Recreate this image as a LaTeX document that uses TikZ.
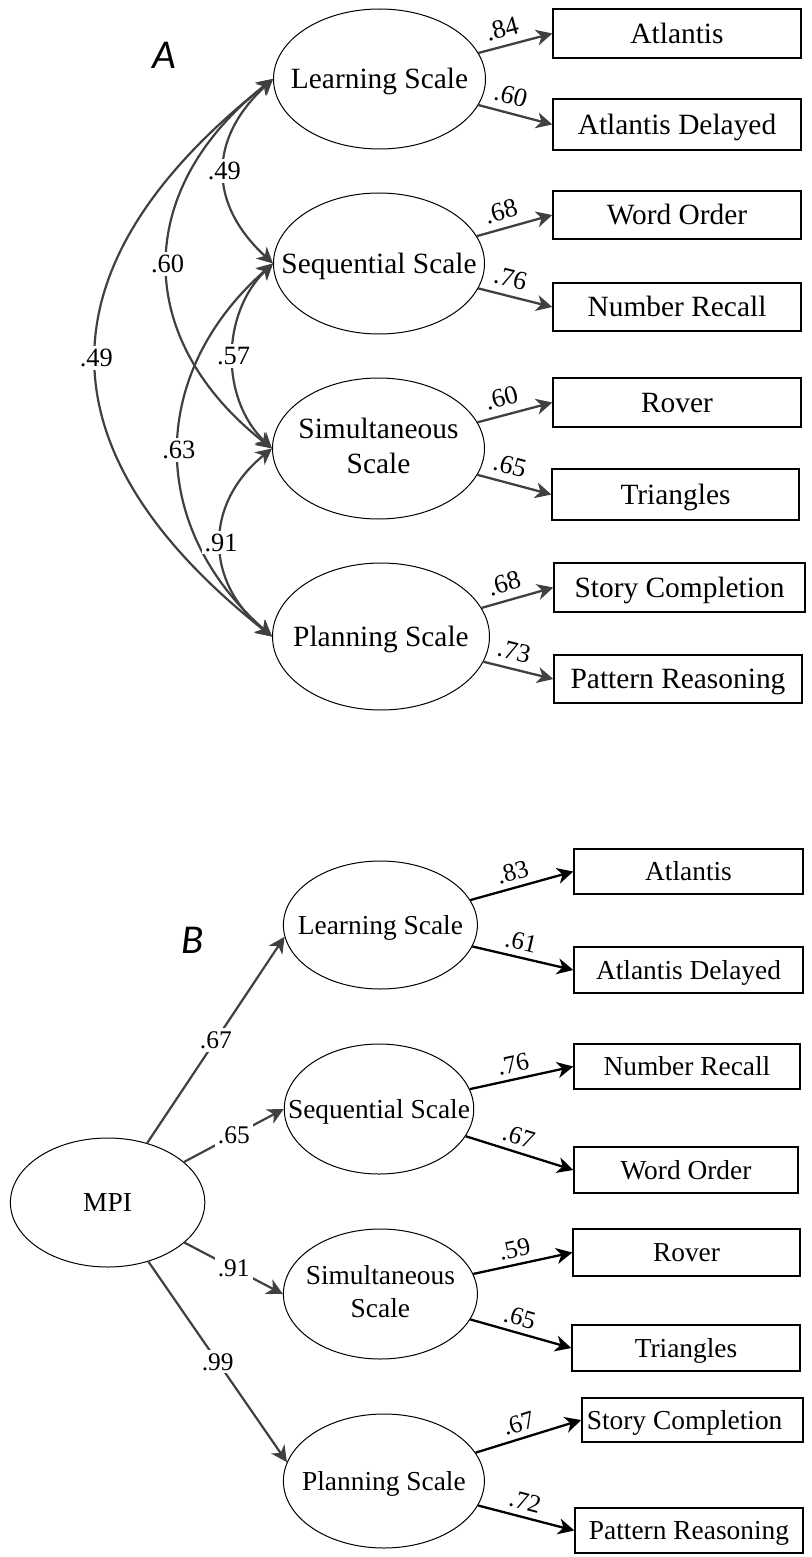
\documentclass[tikz,border=0pt]{standalone}
\usepackage{fontspec}
\setmainfont{Liberation Serif}
\newfontfamily\panelfont{Carlito}
\usetikzlibrary{arrows.meta,shapes.geometric}
\definecolor{pathgray}{HTML}{404040}
% text set in a zero-width box so the ellipse keeps its prescribed size
\newcommand{\zw}[1]{\makebox[0pt]{#1}}
\newcommand{\zwtwo}[2]{\makebox[0pt]{\begin{tabular}{@{}c@{}}#1\\#2\end{tabular}}}
\begin{document}
\begin{tikzpicture}[x=0.5pt,y=-0.5pt,
  >={Stealth[length=8pt,width=8pt,inset=2.4pt]},
  fA/.style={font=\fontsize{14.7}{17.5}\selectfont},
  fB/.style={font=\fontsize{13.7}{16.5}\selectfont},
  % single text lines centred on their capital letters
  oneA/.style={fA, text height=11pt, text depth=1.3pt},
  oneB/.style={fB, text height=10.3pt, text depth=1.2pt},
  shell/.style={ellipse, draw=black, line width=0.5pt, inner sep=0pt},
  obs/.style={rectangle, draw=black, line width=0.7pt, inner sep=0pt},
  load/.style={->, draw=pathgray, line width=1.15pt},
  loadB/.style={->, draw=black, line width=1.15pt},
  corr/.style={<->, draw=pathgray, line width=1.1pt},
  struct/.style={->, draw=pathgray, line width=1.1pt},
  wA/.style={font=\fontsize{13.2}{15}\selectfont, sloped, above, inner sep=3.6pt, pos=0.38},
  wB/.style={font=\fontsize{12.7}{15}\selectfont, sloped, above, inner sep=2.8pt, pos=0.45},
  rA/.style={font=\fontsize{13.2}{15}\selectfont, fill=white, inner sep=1.5pt, midway},
  rB/.style={font=\fontsize{12.7}{15}\selectfont, fill=white, inner sep=1.5pt, midway},
  tag/.style={font={\fontsize{20.5}{24}\panelfont\itshape}, inner sep=0pt}
]
\useasboundingbox (0,0) rectangle (811,1557);

% ---------------- Panel A: correlated factors ----------------
\node[tag] (tagA) at (164,55) {A};

\node[shell, oneA, minimum width=106pt,   minimum height=70pt]   (LA) at (379.5,79)    {\zw{Learning Scale}};
\node[shell, oneA, minimum width=105.5pt, minimum height=70.5pt] (SA) at (379,263.5)   {\zw{Sequential Scale}};
\node[shell, fA,   minimum width=106pt,   minimum height=70.5pt] (MA) at (378.5,448.5) {\zwtwo{Simultaneous}{Scale}};
\node[shell, oneA, minimum width=108.5pt, minimum height=73.5pt] (PA) at (381,636.5)   {\zw{Planning Scale}};

\node[obs, oneA, minimum width=124pt,   minimum height=24.5pt] (a1) at (677,33.5)    {Atlantis};
\node[obs, oneA, minimum width=124pt,   minimum height=25.5pt] (a2) at (677,124.5)   {Atlantis Delayed};
\node[obs, oneA, minimum width=124pt,   minimum height=24pt]   (a3) at (677,215)     {Word Order};
\node[obs, oneA, minimum width=124pt,   minimum height=24pt]   (a4) at (677,307)     {Number Recall};
\node[obs, oneA, minimum width=124pt,   minimum height=24.5pt] (a5) at (677,402.5)   {Rover};
\node[obs, oneA, minimum width=123.5pt, minimum height=25.5pt] (a6) at (675.5,494.5) {Triangles};
\node[obs, oneA, minimum width=125.5pt, minimum height=24.5pt] (a7) at (679.5,587.5) {Story Completion};
\node[obs, oneA, minimum width=124pt,   minimum height=24pt]   (a8) at (678,679)     {Pattern Reasoning};

\draw[load] (LA) -- (a1.west) node[wA] {.84};
\draw[load] (LA) -- (a2.west) node[wA] {.60};
\draw[load] (SA) -- (a3.west) node[wA] {.68};
\draw[load] (SA) -- (a4.west) node[wA] {.76};
\draw[load] (MA) -- (a5.west) node[wA] {.60};
\draw[load] (MA) -- (a6.west) node[wA] {.65};
\draw[load] (PA) -- (a7.west) node[wA] {.68};
\draw[load] (PA) -- (a8.west) node[wA] {.73};

% factor correlations
\draw[corr] (LA.west) .. controls +(-65,60)   and +(-65,-60)   .. (SA.west) node[rA] {.49};
\draw[corr] (LA.west) .. controls +(-140,110) and +(-140,-110) .. (MA.west) node[rA] {.60};
\draw[corr] (LA.west) .. controls +(-235,186) and +(-235,-186) .. (PA.west) node[rA] {.49};
\draw[corr] (SA.west) .. controls +(-52,50)   and +(-52,-50)   .. (MA.west) node[rA] {.57};
\draw[corr] (SA.west) .. controls +(-125,110) and +(-125,-110) .. (PA.west) node[rA] {.63};
\draw[corr] (MA.west) .. controls +(-68,55)   and +(-68,-55)   .. (PA.west) node[rA] {.91};

% ---------------- Panel B: second-order model ----------------
\node[tag] (tagB) at (192.5,940) {B};

\node[shell, oneB, minimum width=97.2pt,  minimum height=64.5pt] (MPI) at (107.6,1202.5) {\zw{MPI}};
\node[shell, oneB, minimum width=97pt,    minimum height=64pt]   (LB) at (380.4,925)    {\zw{Learning Scale}};
\node[shell, oneB, minimum width=94.75pt, minimum height=65pt]   (SB) at (379,1109)     {\zw{Sequential Scale}};
\node[shell, fB,   minimum width=97pt,    minimum height=65pt]   (MB) at (380.4,1294)   {\zwtwo{Simultaneous}{Scale}};
\node[shell, oneB, minimum width=100.5pt, minimum height=67pt]   (PB) at (383.9,1481)   {\zw{Planning Scale}};

\node[obs, oneB, minimum width=114.5pt, minimum height=22.5pt] (b1) at (688.5,871.5)  {Atlantis};
\node[obs, oneB, minimum width=114.5pt, minimum height=23pt]   (b2) at (688.5,970)    {Atlantis Delayed};
\node[obs, oneB, minimum width=113pt,   minimum height=22.5pt] (b3) at (687,1066.5)   {Number Recall};
\node[obs, oneB, minimum width=112pt,   minimum height=23pt]   (b4) at (686,1170)     {Word Order};
\node[obs, oneB, minimum width=113.5pt, minimum height=23.5pt] (b5) at (686.5,1252.5) {Rover};
\node[obs, oneB, minimum width=114pt,   minimum height=23pt]   (b6) at (686,1348)     {Triangles};
\node[obs, oneB, minimum width=110.5pt, minimum height=22pt]   (b7) at (692.4,1420)   {\hspace*{-7.8pt}Story Completion};
\node[obs, oneB, minimum width=114pt,   minimum height=22.5pt] (b8) at (689,1530.5)   {Pattern Reasoning};

\draw[struct] (MPI) -- (LB.187)  node[rB] {.67};
\draw[struct] (MPI) -- (SB.west) node[rB] {.65};
\draw[struct] (MPI) -- (MB.west) node[rB] {.91};
\draw[struct] (MPI) -- (PB.169)  node[rB] {.99};

\draw[loadB] (LB) -- (b1.west) node[wB] {.83};
\draw[loadB] (LB) -- (b2.west) node[wB] {.61};
\draw[loadB] (SB) -- (b3.west) node[wB] {.76};
\draw[loadB] (SB) -- (b4.west) node[wB] {.67};
\draw[loadB] (MB) -- (b5.west) node[wB] {.59};
\draw[loadB] (MB) -- (b6.west) node[wB] {.65};
\draw[loadB] (PB) -- (b7.west) node[wB] {.67};
\draw[loadB] (PB) -- (b8.west) node[wB] {.72};
\end{tikzpicture}
\end{document}
